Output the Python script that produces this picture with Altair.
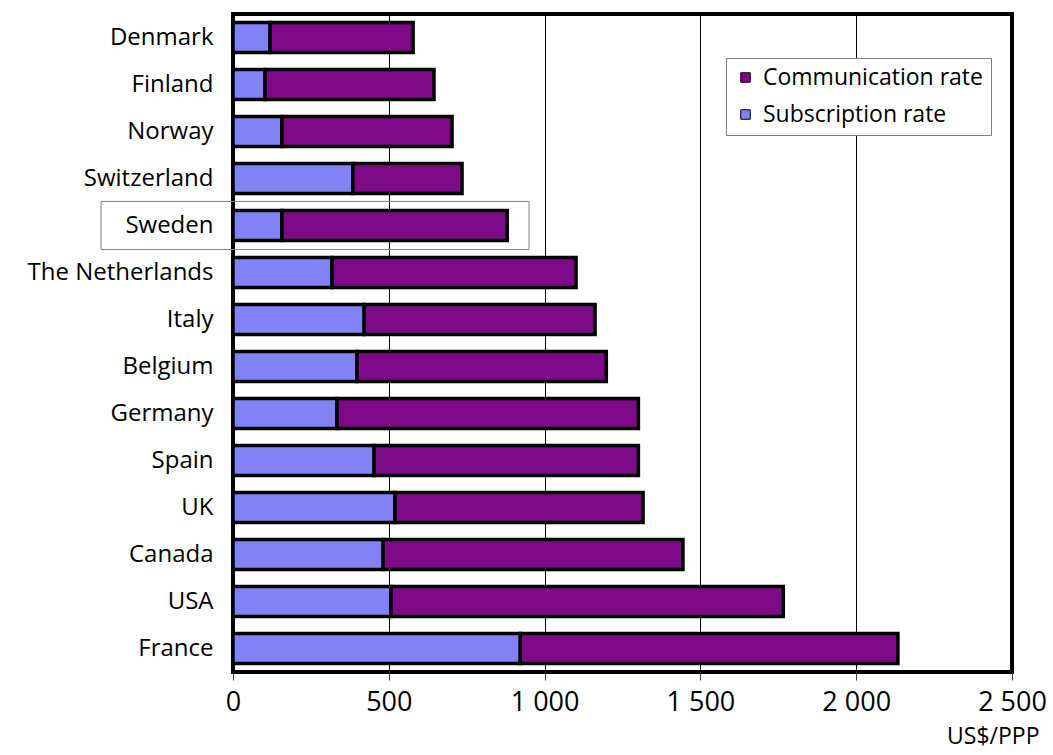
import altair as alt
import pandas as pd

countries = ["Denmark", "Finland", "Norway", "Switzerland", "Sweden",
             "The Netherlands", "Italy", "Belgium", "Germany", "Spain",
             "UK", "Canada", "USA", "France"]
subscription = [119, 103, 157, 385, 157, 318, 421, 398, 334, 453, 520, 482, 507, 922]
communication = [459, 542, 546, 350, 723, 783, 741, 800, 967, 848, 796, 962, 1259, 1212]
series = ["Communication rate", "Subscription rate"]
series_colors = ["#7d0a86", "#8282f6"]
x_ticks = [0, 500, 1000, 1500, 2000, 2500]
highlight = ["Sweden"]

rows = []
for c, s, m in zip(countries, subscription, communication):
    rows.append({"country": c, "series": "Subscription rate", "value": s, "ord": 0})
    rows.append({"country": c, "series": "Communication rate", "value": m, "ord": 1})
df = pd.DataFrame(rows)

FONT = "Open Sans"

yscale = alt.Scale(domain=countries, paddingInner=0.36, paddingOuter=0.18)

bars = alt.Chart(df).mark_bar(stroke="black", strokeWidth=3.5).encode(
    y=alt.Y("country:N", sort=countries, scale=yscale,
            axis=alt.Axis(title=None, ticks=False, domain=False, grid=False,
                          labelPadding=20, labelFontSize=24, labelColor="black",
                          labelFont=FONT, labelLimit=0)),
    x=alt.X("value:Q", stack="zero",
            scale=alt.Scale(domain=[0, 2500], nice=False),
            axis=alt.Axis(values=x_ticks, format=",d",
                          labelExpr="replace(datum.label, ',', ' ')",
                          grid=True, gridColor="black", gridWidth=1, gridOpacity=1,
                          domain=False, ticks=True, tickSize=8, tickColor="#444444",
                          tickWidth=1, labelPadding=9, labelFontSize=27,
                          labelFlush=False, labelColor="black", labelFont=FONT,
                          title="US$/PPP", titleFont=FONT, titleFontSize=23,
                          titleFontWeight="normal", titleColor="black",
                          titleAnchor="end", titleAlign="right",
                          titleBaseline="top", titleX=806, titleY=53)),
    color=alt.Color("series:N",
                    scale=alt.Scale(domain=series, range=series_colors),
                    legend=alt.Legend(title=None, orient="none", legendX=493, legendY=44,
                                      labelFont=FONT, labelFontSize=23, labelLimit=0,
                                      labelColor="black", symbolType="square",
                                      symbolSize=90, symbolStrokeColor="black",
                                      symbolStrokeWidth=1, fillColor="white",
                                      strokeColor="#808080", padding=8,
                                      rowPadding=13, labelOffset=6)),
    order=alt.Order("ord:Q"),
)

box = alt.Chart(pd.DataFrame({"country": highlight})).mark_bar(
    fillOpacity=0, stroke="#808080", strokeWidth=1,
    height=alt.RelativeBandSize(band=1.6)
).encode(
    y=alt.Y("country:N", sort=countries, scale=yscale),
    x=alt.value(-132),
    x2=alt.value(296),
)

chart = alt.layer(box, bars).properties(
    width=779, height=658,
    background="white",
    autosize=alt.AutoSizeParams(type="none"),
    padding={"left": 233, "top": 14, "right": 41, "bottom": 83},
).configure_view(stroke="black", strokeWidth=4)

chart.save("out.html", embed_options={"renderer": "svg", "actions": False})
